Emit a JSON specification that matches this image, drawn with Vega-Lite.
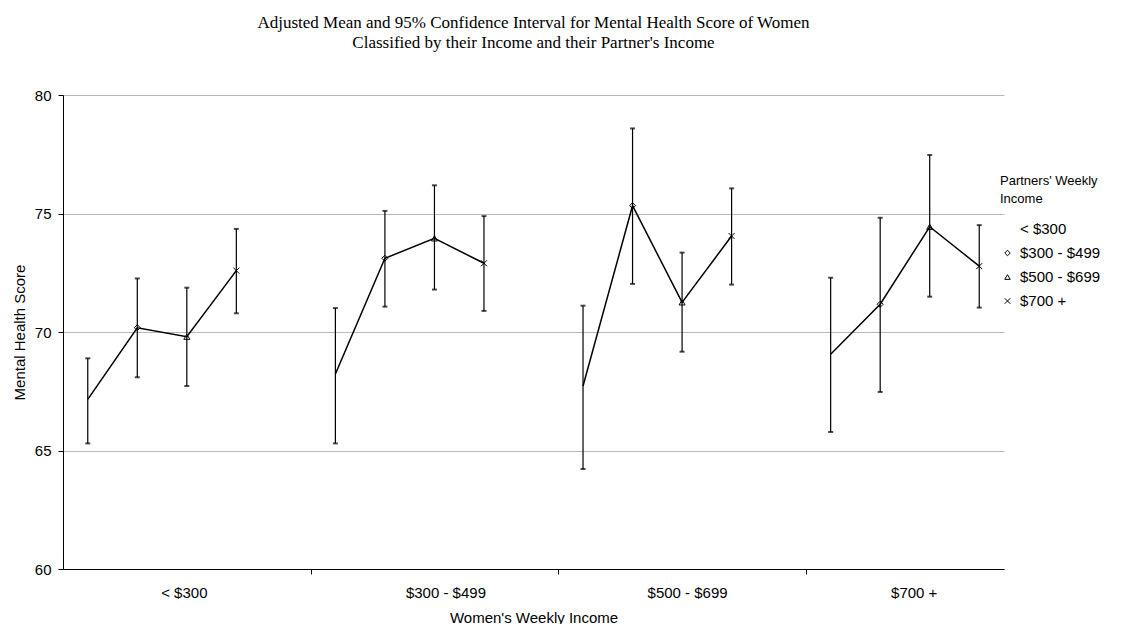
{
  "$schema": "https://vega.github.io/schema/vega-lite/v6.json",
  "width": 941,
  "height": 474,
  "autosize": "none",
  "padding": {"left": 63, "top": 95, "right": 118, "bottom": 55},
  "background": "white",
  "title": {
    "text": ["Adjusted Mean and 95% Confidence Interval for Mental Health Score of Women", "Classified by their  Income and their Partner's Income"],
    "font": "Liberation Serif",
    "fontSize": 17,
    "fontWeight": "normal",
    "color": "black",
    "lineHeight": 20,
    "anchor": "middle",
    "frame": "group",
    "offset": 36
  },
  "data": {
    "values": [
      {"women": "< $300", "partner": "< $300", "cell": "< $300 / < $300", "mean": 67.16, "lo": 65.30, "hi": 68.89},
      {"women": "< $300", "partner": "$300 - $499", "cell": "< $300 / $300 - $499", "mean": 70.18, "lo": 68.09, "hi": 72.26},
      {"women": "< $300", "partner": "$500 - $699", "cell": "< $300 / $500 - $699", "mean": 69.80, "lo": 67.72, "hi": 71.87},
      {"women": "< $300", "partner": "$700 +", "cell": "< $300 / $700 +", "mean": 72.59, "lo": 70.79, "hi": 74.35},
      {"women": "$300 - $499", "partner": "< $300", "cell": "$300 - $499 / < $300", "mean": 68.23, "lo": 65.30, "hi": 71.01},
      {"women": "$300 - $499", "partner": "$300 - $499", "cell": "$300 - $499 / $300 - $499", "mean": 73.11, "lo": 71.07, "hi": 75.11},
      {"women": "$300 - $499", "partner": "$500 - $699", "cell": "$300 - $499 / $500 - $699", "mean": 73.95, "lo": 71.79, "hi": 76.19},
      {"women": "$300 - $499", "partner": "$700 +", "cell": "$300 - $499 / $700 +", "mean": 72.90, "lo": 70.89, "hi": 74.89},
      {"women": "$500 - $699", "partner": "< $300", "cell": "$500 - $699 / < $300", "mean": 67.72, "lo": 64.22, "hi": 71.11},
      {"women": "$500 - $699", "partner": "$300 - $499", "cell": "$500 - $699 / $300 - $499", "mean": 75.33, "lo": 72.03, "hi": 78.59},
      {"women": "$500 - $699", "partner": "$500 - $699", "cell": "$500 - $699 / $500 - $699", "mean": 71.25, "lo": 69.17, "hi": 73.35},
      {"women": "$500 - $699", "partner": "$700 +", "cell": "$500 - $699 / $700 +", "mean": 74.05, "lo": 72.00, "hi": 76.06},
      {"women": "$700 +", "partner": "< $300", "cell": "$700 + / < $300", "mean": 69.06, "lo": 65.78, "hi": 72.29},
      {"women": "$700 +", "partner": "$300 - $499", "cell": "$700 + / $300 - $499", "mean": 71.17, "lo": 67.47, "hi": 74.82},
      {"women": "$700 +", "partner": "$500 - $699", "cell": "$700 + / $500 - $699", "mean": 74.44, "lo": 71.49, "hi": 77.47},
      {"women": "$700 +", "partner": "$700 +", "cell": "$700 + / $700 +", "mean": 72.78, "lo": 71.03, "hi": 74.51}
    ]
  },
  "encoding": {
    "x": {
      "field": "cell",
      "type": "ordinal",
      "title": "Women's Weekly Income",
      "scale": {
        "type": "band",
        "paddingInner": 0,
        "paddingOuter": 0,
        "domain": [
          "< $300 / < $300", "< $300 / $300 - $499", "< $300 / $500 - $699", "< $300 / $700 +", "gap 1",
          "$300 - $499 / < $300", "$300 - $499 / $300 - $499", "$300 - $499 / $500 - $699", "$300 - $499 / $700 +", "gap 2",
          "$500 - $699 / < $300", "$500 - $699 / $300 - $499", "$500 - $699 / $500 - $699", "$500 - $699 / $700 +", "gap 3",
          "$700 + / < $300", "$700 + / $300 - $499", "$700 + / $500 - $699", "$700 + / $700 +"
        ]
      },
      "axis": {
        "tickBand": "extent",
        "labelAngle": 0,
        "labelExpr": "datum.value == '< $300 / $500 - $699' ? '< $300' : datum.value == '$300 - $499 / $500 - $699' ? '$300 - $499' : datum.value == '$500 - $699 / $500 - $699' ? '$500 - $699' : datum.value == '$700 + / $500 - $699' ? '$700 +' : ''",
        "tickOpacity": {"condition": {"test": "datum.value == 'gap 1' || datum.value == 'gap 2' || datum.value == 'gap 3'", "value": 1}, "value": 0},
        "labelOffset": {"condition": [
          {"test": "datum.value == '< $300 / $500 - $699'", "value": -3},
          {"test": "datum.value == '$300 - $499 / $500 - $699'", "value": 11},
          {"test": "datum.value == '$500 - $699 / $500 - $699'", "value": 5},
          {"test": "datum.value == '$700 + / $500 - $699'", "value": -16}
        ], "value": 0}
      }
    }
  },
  "layer": [
    {
      "mark": {"type": "errorbar", "color": "black", "ticks": {"size": 5, "thickness": 2, "color": "black"}, "rule": {"strokeWidth": 1.2, "color": "black"}},
      "encoding": {
        "y": {"field": "lo", "type": "quantitative", "title": "Mental Health Score", "scale": {"domain": [60, 80], "nice": false, "zero": false}, "axis": {"values": [60, 65, 70, 75, 80]}},
        "y2": {"field": "hi"}
      }
    },
    {
      "mark": {"type": "line", "color": "black", "strokeWidth": 1.5},
      "encoding": {
        "y": {"field": "mean", "type": "quantitative", "title": "Mental Health Score"},
        "detail": {"field": "women", "type": "nominal"},
        "order": {"value": null}
      }
    },
    {
      "mark": {"type": "point", "filled": false, "stroke": "black", "strokeWidth": 1, "size": 36, "opacity": 1},
      "encoding": {
        "y": {"field": "mean", "type": "quantitative", "title": "Mental Health Score"},
        "shape": {
          "field": "partner",
          "type": "nominal",
          "scale": {
            "domain": ["< $300", "$300 - $499", "$500 - $699", "$700 +"],
            "range": ["M0,0L0,0.01", "diamond", "triangle-up", "M-1,-1L1,1M-1,1L1,-1"]
          },
          "legend": {
            "title": ["Partners' Weekly", "Income"],
            "orient": "none",
            "legendX": 937,
            "legendY": 80,
            "titleFont": "Liberation Sans",
            "titleFontSize": 13,
            "titleFontWeight": "normal",
            "titleColor": "black",
            "titleLineHeight": 17.5,
            "titlePadding": 16,
            "labelFont": "Liberation Sans",
            "labelFontSize": 15,
            "labelColor": "black",
            "labelOffset": 5,
            "symbolSize": 30,
            "symbolStrokeColor": "black",
            "symbolStrokeWidth": 1,
            "rowPadding": 8,
            "encode": {
              "symbols": {
                "update": {
                  "stroke": {"value": "black"},
                  "strokeWidth": {"value": 1},
                  "opacity": {"value": 1},
                  "size": {"value": 30}
                }
              }
            }
          }
        }
      }
    }
  ],
  "config": {
    "view": {"stroke": null},
    "axis": {
      "domainColor": "black",
      "domainWidth": 1,
      "tickColor": "black",
      "tickWidth": 1,
      "tickSize": 5,
      "labelColor": "black",
      "titleColor": "black",
      "labelFont": "Liberation Sans",
      "titleFont": "Liberation Sans",
      "labelFontSize": 15,
      "titleFontSize": 15,
      "titleFontWeight": "normal"
    },
    "axisX": {"grid": false, "labelPadding": 11, "titlePadding": 10},
    "axisY": {"grid": true, "gridColor": "#b8b8b8", "gridWidth": 1.2, "labelPadding": 7, "titlePadding": 7}
  }
}
